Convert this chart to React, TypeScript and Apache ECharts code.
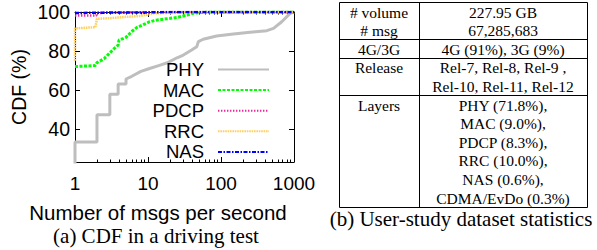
import React, { useEffect, useRef } from "react";
import * as echarts from "echarts";

// ---------- data ----------
const seriesNames = ["PHY", "MAC", "PDCP", "RRC", "NAS"];

const phyData: [number, number][] = [
  [1, 0], [1, 33.3], [2, 33.3], [2, 47.2], [3, 47.2], [3, 57.8], [3.9, 57.8],
  [3.9, 63], [5, 63], [5, 65.6], [6, 67], [8, 69.5], [10.5, 71], [14, 72.5],
  [18, 73.8], [25, 76.5], [30.5, 77.9], [39.6, 80.5], [46.5, 82.2], [49, 84.8],
  [57, 86], [87, 87.7], [148, 88.7], [250, 89.6], [424, 90.4], [524, 91.6],
  [680, 95], [885, 99.3], [1000, 100],
];
const macData: [number, number][] = [
  [1, 72], [1.9, 72.5], [2, 74], [2.5, 76], [3, 79], [3.5, 81.5], [3.9, 83],
  [4, 85.5], [5, 87], [6, 90], [7, 92], [8.6, 93.5], [10.6, 95], [13, 95.8],
  [18, 96.5], [25, 97.2], [35, 98.5], [41, 99.3], [55, 99.8], [70, 100], [1000, 100],
];
const pdcpData: [number, number][] = [
  [1, 98.2], [1.95, 98.2], [2, 99.5], [5, 99.8], [10, 100], [1000, 100],
];
const rrcData: [number, number][] = [
  [1, 75], [1, 91.6], [1.9, 92.2], [2, 96.5], [3, 96.8], [5, 97.5], [8, 98],
  [12, 99.3], [20, 99.6], [40, 100], [1000, 100],
];
const nasData: [number, number][] = [
  [1, 99.5], [3, 99.7], [10, 99.8], [20, 100], [1000, 100],
];

const xMajorTicks = [1, 10, 100, 1000];
const xMinorTicks = [2, 3, 4, 5, 6, 7, 8, 9, 20, 30, 40, 50, 60, 70, 80, 90, 200, 300, 400, 500, 600, 700, 800, 900];
const yTicks = [40, 60, 80, 100];

const tableLeft = ["# volume", "# msg", "4G/3G", "Release", "", "Layers", "", "", "", "", ""];
const tableRight = [
  "227.95 GB", "67,285,683", "4G (91%), 3G (9%)", "Rel-7, Rel-8, Rel-9 ,",
  "Rel-10, Rel-11, Rel-12", "PHY (71.8%),", "MAC (9.0%),", "PDCP (8.3%),",
  "RRC (10.0%),", "NAS (0.6%),", "CDMA/EvDo (0.3%)",
];
const tableRulesAfterRow = [1, 2, 4];

const captionA = "(a) CDF in a driving test";
const captionB = "(b) User-study dataset statistics";
const xName = "Number of msgs per second";
const yName = "CDF (%)";

// ---------- styles ----------
const SANS = "Liberation Sans";
const SERIF = "Liberation Serif";
const seriesStyles = [
  { color: "#bebebe", width: 3, type: "solid" as any },
  { color: "#00ff00", width: 3, type: [3, 1.5] },
  { color: "#f0289b", width: 2.5, type: [1.4, 1.6] },
  { color: "#ffd060", width: 2.5, type: [1.6, 0.8] },
  { color: "#0000ff", width: 2.5, type: [4, 1.5, 1.5, 1.5] },
];
const allData = [phyData, macData, pdcpData, rrcData, nasData];

const GRID = { left: 75, top: 12, right: 303, bottom: 88 };

export default function App() {
  const ref = useRef<HTMLDivElement>(null);
  useEffect(() => {
    if (!ref.current) return;
    const chart = echarts.init(ref.current, undefined, { renderer: "svg" });

    const tbl = { x0: 339, x1: 419, x2: 587, top: 2, pitch: 18.6 };
    const nRows = tableRight.length;
    const graphics: any[] = [];
    const black = "#000";
    const yBottom = Math.round(tbl.top + nRows * tbl.pitch);
    graphics.push({
      type: "rect",
      shape: { x: tbl.x0 + 0.5, y: tbl.top + 0.5, width: tbl.x2 - tbl.x0, height: yBottom - tbl.top },
      style: { fill: "none", stroke: black, lineWidth: 1 },
      silent: true,
    });
    graphics.push({
      type: "line",
      shape: { x1: tbl.x1 + 0.5, y1: tbl.top, x2: tbl.x1 + 0.5, y2: yBottom },
      style: { stroke: black, lineWidth: 1 },
    });
    tableRulesAfterRow.forEach((r) => {
      const y = Math.round(tbl.top + (r + 1) * tbl.pitch) + 0.5;
      graphics.push({
        type: "line",
        shape: { x1: tbl.x0, y1: y, x2: tbl.x2, y2: y },
        style: { stroke: black, lineWidth: 1 },
      });
    });
    for (let i = 0; i < nRows; i++) {
      const cy = tbl.top + tbl.pitch * (i + 0.5) + 0.8;
      if (tableLeft[i]) {
        graphics.push({
          type: "text",
          x: (tbl.x0 + tbl.x1) / 2,
          y: cy,
          style: { text: tableLeft[i], font: `15.5px "${SERIF}"`, fill: black, align: "center", verticalAlign: "middle" },
        });
      }
      graphics.push({
        type: "text",
        x: (tbl.x1 + tbl.x2) / 2,
        y: cy,
        style: { text: tableRight[i], font: `15.5px "${SERIF}"`, fill: black, align: "center", verticalAlign: "middle" },
      });
    }
    graphics.push({
      type: "text",
      x: 156,
      y: 236,
      style: { text: captionA, font: `21px "${SERIF}"`, fill: black, align: "center", verticalAlign: "middle" },
    });
    graphics.push({
      type: "text",
      x: 461,
      y: 219,
      style: { text: captionB, font: `21px "${SERIF}"`, fill: black, align: "center", verticalAlign: "middle" },
    });

    const axisLineStyle = { color: black, width: 1 };
    const logBase = { type: "log" as const, logBase: 10, min: 1, max: 1000, gridIndex: 0 };

    const option: any = {
      animation: false,
      textStyle: { fontFamily: SANS },
      grid: { ...GRID, containLabel: false, outerBoundsMode: "none" },
      legend: {
        orient: "vertical",
        right: 327,
        top: 60,
        align: "right",
        itemWidth: 51,
        itemHeight: 10,
        itemGap: 1.6,
        padding: 0,
        selectedMode: false,
        itemStyle: { opacity: 0, borderWidth: 0 },
        textStyle: { fontSize: 18.5, fontFamily: SANS, color: black, padding: [0, 9, 0, 0] },
        data: seriesNames,
      },
      xAxis: [
        {
          ...logBase,
          position: "bottom",
          axisLine: { show: true, onZero: false, lineStyle: axisLineStyle },
          axisTick: { show: true, inside: true, length: 5, customValues: xMajorTicks, lineStyle: axisLineStyle },
          axisLabel: {
            show: true,
            customValues: xMajorTicks,
            formatter: (v: number) => String(Math.round(v)),
            fontSize: 19,
            fontFamily: SANS,
            color: black,
            margin: 12,
          },
          splitLine: { show: false },
          name: xName,
          nameLocation: "middle",
          nameGap: 40,
          nameTextStyle: { fontSize: 20.5, fontFamily: SANS, color: black, padding: [0, 53, 0, 0] },
        },
        {
          ...logBase,
          position: "bottom",
          axisLine: { show: false, onZero: false },
          axisTick: { show: true, inside: true, length: 2.5, customValues: xMinorTicks, lineStyle: axisLineStyle },
          axisLabel: { show: false },
          splitLine: { show: false },
        },
        {
          ...logBase,
          position: "top",
          axisLine: { show: true, onZero: false, lineStyle: axisLineStyle },
          axisTick: { show: true, inside: true, length: 5, customValues: xMajorTicks, lineStyle: axisLineStyle },
          axisLabel: { show: false },
          splitLine: { show: false },
        },
        {
          ...logBase,
          position: "top",
          axisLine: { show: false, onZero: false },
          axisTick: { show: true, inside: true, length: 2.5, customValues: xMinorTicks, lineStyle: axisLineStyle },
          axisLabel: { show: false },
          splitLine: { show: false },
        },
      ],
      yAxis: [
        {
          type: "value",
          min: 23,
          max: 100,
          position: "left",
          axisLine: { show: true, onZero: false, lineStyle: axisLineStyle },
          axisTick: { show: true, inside: true, length: 5, customValues: yTicks, lineStyle: axisLineStyle },
          axisLabel: { show: true, customValues: yTicks, fontSize: 19.5, fontFamily: SANS, color: black, margin: 5 },
          splitLine: { show: false },
          name: yName,
          nameLocation: "middle",
          nameGap: 46,
          nameTextStyle: { fontSize: 19.5, fontFamily: SANS, color: black },
        },
        {
          type: "value",
          min: 23,
          max: 100,
          position: "right",
          axisLine: { show: true, onZero: false, lineStyle: axisLineStyle },
          axisTick: { show: true, inside: true, length: 5, customValues: yTicks, lineStyle: axisLineStyle },
          axisLabel: { show: false },
          splitLine: { show: false },
        },
      ],
      series: seriesNames.map((name, i) => ({
        name,
        type: "line",
        xAxisIndex: 0,
        yAxisIndex: 0,
        data: allData[i],
        symbol: "none",
        showSymbol: false,
        clip: true,
        z: 2 + i,
        color: seriesStyles[i].color,
        lineStyle: {
          color: seriesStyles[i].color,
          width: seriesStyles[i].width,
          type: seriesStyles[i].type,
          cap: "butt",
        },
        emphasis: { disabled: true },
      })),
      graphic: graphics,
    };
    chart.setOption(option);
    return () => chart.dispose();
  }, []);
  return (
    <div
      ref={ref}
      style={{ position: "absolute", left: 0, top: 0, width: 597, height: 250, background: "#fff" }}
    />
  );
}
